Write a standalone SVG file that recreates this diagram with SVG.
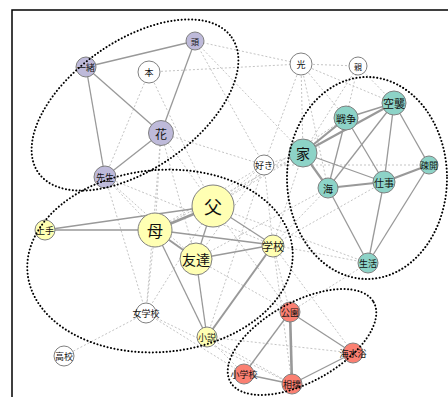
<svg xmlns="http://www.w3.org/2000/svg" width="448" height="397" viewBox="0 0 448 397">
<style>
text{font-family:"Noto Sans CJK JP","Noto Sans",sans-serif;text-anchor:middle;dominant-baseline:central;fill:#111}
.n{stroke:#808080;stroke-width:1}
.p{fill:#BEBADA}.t{fill:#8DD3C7}.y{fill:#FFFFB3}.r{fill:#FB8072}.w{fill:#fff}
.s{stroke:#999;stroke-width:1.3;fill:none}
.d{stroke:#c4c4c4;stroke-width:1;stroke-dasharray:2 2;fill:none}
.e{fill:none;stroke:#000;stroke-width:2;stroke-dasharray:0.1 3.4;stroke-linecap:round}
</style>
<rect x="12" y="10" width="450" height="400" fill="#fff" stroke="#000" stroke-width="1.5"/>
<g id="connectors">
<g class="d">
<line x1="195" y1="41" x2="301" y2="64"/>
<line x1="195" y1="41" x2="264" y2="165"/>
<line x1="195" y1="41" x2="303" y2="153"/>
<line x1="149" y1="72" x2="301" y2="64"/>
<line x1="149" y1="72" x2="105" y2="177"/>
<line x1="149" y1="72" x2="213" y2="206"/>
<line x1="161" y1="133" x2="264" y2="165"/>
<line x1="161" y1="133" x2="155" y2="230"/>
<line x1="161" y1="133" x2="213" y2="206"/>
<line x1="161" y1="133" x2="196" y2="259"/>
<line x1="161" y1="133" x2="146" y2="313"/>
<line x1="105" y1="177" x2="155" y2="230"/>
<line x1="105" y1="177" x2="196" y2="259"/>
<line x1="105" y1="177" x2="146" y2="313"/>
<line x1="105" y1="177" x2="273" y2="245"/>
<line x1="301" y1="64" x2="358" y2="66"/>
<line x1="301" y1="64" x2="303" y2="153"/>
<line x1="301" y1="64" x2="346" y2="118"/>
<line x1="301" y1="64" x2="394" y2="103"/>
<line x1="301" y1="64" x2="328" y2="188"/>
<line x1="301" y1="64" x2="264" y2="165"/>
<line x1="358" y1="66" x2="394" y2="103"/>
<line x1="358" y1="66" x2="346" y2="118"/>
<line x1="358" y1="66" x2="303" y2="153"/>
<line x1="264" y1="165" x2="303" y2="153"/>
<line x1="264" y1="165" x2="429" y2="165"/>
<line x1="264" y1="165" x2="213" y2="206"/>
<line x1="264" y1="165" x2="155" y2="230"/>
<line x1="264" y1="165" x2="196" y2="259"/>
<line x1="264" y1="165" x2="273" y2="245"/>
<line x1="264" y1="165" x2="207" y2="337"/>
<line x1="303" y1="153" x2="213" y2="206"/>
<line x1="303" y1="153" x2="273" y2="245"/>
<line x1="303" y1="153" x2="155" y2="230"/>
<line x1="328" y1="188" x2="273" y2="245"/>
<line x1="328" y1="188" x2="196" y2="259"/>
<line x1="368" y1="263" x2="273" y2="245"/>
<line x1="368" y1="263" x2="290" y2="312"/>
<line x1="368" y1="263" x2="213" y2="206"/>
<line x1="384" y1="182" x2="273" y2="245"/>
<line x1="346" y1="118" x2="213" y2="206"/>
<line x1="146" y1="313" x2="64" y2="356"/>
<line x1="146" y1="313" x2="155" y2="230"/>
<line x1="146" y1="313" x2="213" y2="206"/>
<line x1="146" y1="313" x2="244" y2="374"/>
<line x1="146" y1="313" x2="292" y2="384"/>
<line x1="207" y1="337" x2="244" y2="374"/>
<line x1="207" y1="337" x2="292" y2="384"/>
<line x1="213" y1="206" x2="290" y2="312"/>
<line x1="273" y1="245" x2="290" y2="312"/>
<line x1="273" y1="245" x2="353" y2="353"/>
<line x1="196" y1="259" x2="290" y2="312"/>
<line x1="207" y1="337" x2="353" y2="353"/>
<line x1="273" y1="245" x2="292" y2="384"/>
</g>
<g class="s">
<line x1="86" y1="67" x2="195" y2="41"/>
<line x1="86" y1="67" x2="161" y2="133"/>
<line x1="86" y1="67" x2="105" y2="177"/>
<line x1="195" y1="41" x2="161" y2="133"/>
<line x1="161" y1="133" x2="105" y2="177"/>
<line x1="303" y1="153" x2="346" y2="118" stroke-width="2.2"/>
<line x1="303" y1="153" x2="394" y2="103" stroke-width="2.2"/>
<line x1="346" y1="118" x2="394" y2="103" stroke-width="1.7"/>
<line x1="346" y1="118" x2="328" y2="188"/>
<line x1="346" y1="118" x2="384" y2="182"/>
<line x1="394" y1="103" x2="328" y2="188"/>
<line x1="394" y1="103" x2="384" y2="182"/>
<line x1="394" y1="103" x2="429" y2="165"/>
<line x1="303" y1="153" x2="328" y2="188" stroke-width="2.2"/>
<line x1="303" y1="153" x2="384" y2="182"/>
<line x1="328" y1="188" x2="384" y2="182" stroke-width="2.2"/>
<line x1="384" y1="182" x2="429" y2="165" stroke-width="2.2"/>
<line x1="328" y1="188" x2="368" y2="263"/>
<line x1="384" y1="182" x2="368" y2="263"/>
<line x1="429" y1="165" x2="368" y2="263"/>
<line x1="45" y1="230" x2="213" y2="206"/>
<line x1="45" y1="230" x2="155" y2="230" stroke-width="1.7"/>
<line x1="155" y1="230" x2="213" y2="206" stroke-width="2.6"/>
<line x1="155" y1="230" x2="196" y2="259" stroke-width="2"/>
<line x1="155" y1="230" x2="273" y2="245"/>
<line x1="155" y1="230" x2="207" y2="337"/>
<line x1="213" y1="206" x2="196" y2="259"/>
<line x1="213" y1="206" x2="273" y2="245"/>
<line x1="196" y1="259" x2="273" y2="245"/>
<line x1="196" y1="259" x2="207" y2="337"/>
<line x1="273" y1="245" x2="207" y2="337" stroke-width="2"/>
<line x1="290" y1="312" x2="244" y2="374"/>
<line x1="290" y1="312" x2="292" y2="384" stroke-width="2.6"/>
<line x1="290" y1="312" x2="353" y2="353"/>
<line x1="244" y1="374" x2="292" y2="384"/>
<line x1="292" y1="384" x2="353" y2="353"/>
</g>
</g>
<g id="n-atama"><circle class="n p" cx="195" cy="41" r="9"/><text x="195" y="41" font-size="8">頭</text></g>
<g id="n-issho"><circle class="n p" cx="86" cy="67" r="10"/><text x="86" y="67" font-size="9">一緒</text></g>
<g id="n-hon"><circle class="n w" cx="149" cy="72" r="11"/><text x="149" y="72" font-size="9">本</text></g>
<g id="n-hana"><circle class="n p" cx="161" cy="133" r="12.5"/><text x="161" y="133" font-size="12">花</text></g>
<g id="n-sensei"><circle class="n p" cx="105" cy="177" r="11"/><text x="105" y="177" font-size="9">先生</text></g>
<g id="n-hikari"><circle class="n w" cx="301" cy="64" r="11"/><text x="301" y="64" font-size="9">光</text></g>
<g id="n-oya"><circle class="n w" cx="358" cy="66" r="9"/><text x="358" y="66" font-size="8">親</text></g>
<g id="n-kushu"><circle class="n t" cx="394" cy="103" r="12"/><text x="394" y="103" font-size="11">空襲</text></g>
<g id="n-senso"><circle class="n t" cx="346" cy="118" r="12"/><text x="346" y="118" font-size="10">戦争</text></g>
<g id="n-ie"><circle class="n t" cx="303" cy="153" r="14"/><text x="303" y="153" font-size="14">家</text></g>
<g id="n-suki"><circle class="n w" cx="264" cy="165" r="10"/><text x="264" y="165" font-size="9">好き</text></g>
<g id="n-umi"><circle class="n t" cx="328" cy="188" r="10"/><text x="328" y="188" font-size="10">海</text></g>
<g id="n-shigoto"><circle class="n t" cx="384" cy="182" r="11"/><text x="384" y="182" font-size="10">仕事</text></g>
<g id="n-sokai"><circle class="n t" cx="429" cy="165" r="9"/><text x="429" y="165" font-size="9">疎開</text></g>
<g id="n-seikatsu"><circle class="n t" cx="368" cy="263" r="10"/><text x="368" y="263" font-size="9">生活</text></g>
<g id="n-jozu"><circle class="n y" cx="45" cy="230" r="10"/><text x="45" y="230" font-size="9">上手</text></g>
<g id="n-haha"><circle class="n y" cx="155" cy="230" r="17"/><text x="155" y="230" font-size="16">母</text></g>
<g id="n-chichi"><circle class="n y" cx="213" cy="206" r="21"/><text x="213" y="206" font-size="18">父</text></g>
<g id="n-tomodachi"><circle class="n y" cx="196" cy="259" r="16"/><text x="196" y="259" font-size="14">友達</text></g>
<g id="n-gakko"><circle class="n y" cx="273" cy="246" r="11"/><text x="273" y="246" font-size="11">学校</text></g>
<g id="n-jogakko"><circle class="n w" cx="146" cy="313" r="10"/><text x="146" y="313" font-size="9">女学校</text></g>
<g id="n-shosetsu"><circle class="n y" cx="207" cy="337" r="10"/><text x="207" y="337" font-size="9">小説</text></g>
<g id="n-koko"><circle class="n w" cx="64" cy="356" r="10"/><text x="64" y="356" font-size="9">高校</text></g>
<g id="n-koen"><circle class="n r" cx="290" cy="312" r="10"/><text x="290" y="312" font-size="9">公園</text></g>
<g id="n-kaisuiyoku"><circle class="n r" cx="353" cy="353" r="10"/><text x="353" y="353" font-size="9">海水浴</text></g>
<g id="n-shogakko"><circle class="n r" cx="244" cy="374" r="10"/><text x="244" y="374" font-size="9">小学校</text></g>
<g id="n-sumo"><circle class="n r" cx="292" cy="384" r="10"/><text x="292" y="384" font-size="9">相撲</text></g>
<g id="clusters">
<ellipse class="e" cx="135" cy="105" rx="118" ry="64" transform="rotate(-35 135 105)"/>
<ellipse class="e" cx="367" cy="178" rx="80" ry="101"/>
<ellipse class="e" cx="160" cy="261" rx="133" ry="91" transform="rotate(-5 160 261)"/>
<ellipse class="e" cx="302" cy="342" rx="82" ry="40" transform="rotate(-29 302 342)"/>
</g>
</svg>
